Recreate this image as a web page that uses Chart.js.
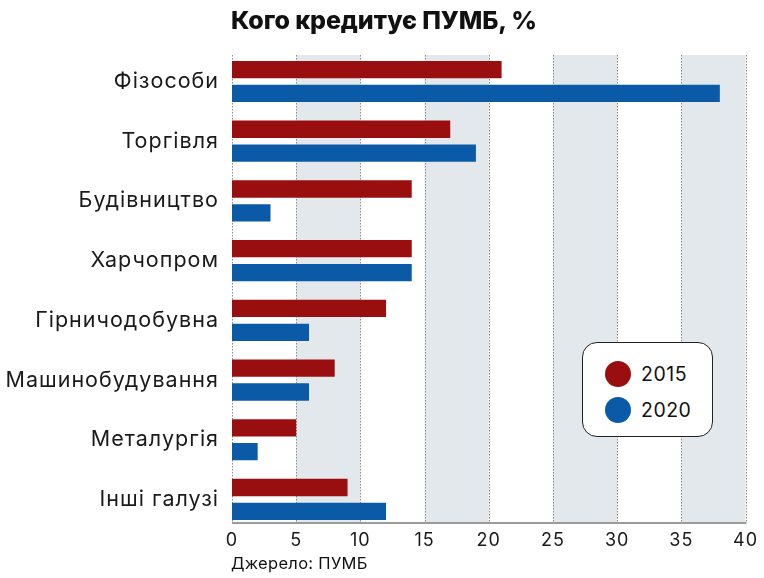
<!DOCTYPE html>
<html>
<head>
<meta charset="utf-8">
<script src="https://cdn.jsdelivr.net/npm/chart.js@4"></script>
<style>
  html, body { margin: 0; padding: 0; background: #fff; }
  #wrap { position: relative; width: 764px; height: 578px; overflow: hidden; }
  #c { position: absolute; left: 0; top: 0; }
  #title { position: absolute; left: 231px; top: 5px; font-family: Inter, sans-serif; font-weight: 800; font-size: 25px; color: #111; white-space: nowrap; letter-spacing: -0.1px; }
  #source { position: absolute; left: 231px; top: 553px; font-family: Inter, sans-serif; font-size: 16.5px; color: #111; white-space: nowrap; letter-spacing: 0.3px; }
  #legend { position: absolute; left: 582px; top: 342px; width: 129px; height: 93px; border: 1.6px solid #222; border-radius: 15px; background: #fff; box-sizing: content-box; }
  .li { position: absolute; left: 22px; height: 27px; display: flex; align-items: center; font-family: Inter, sans-serif; font-size: 19.5px; color: #111; letter-spacing: 0.5px; }
  .dot { width: 26px; height: 26px; border-radius: 50%; margin-right: 10px; }
</style>
</head>
<body>
<div id="wrap">
  <canvas id="c" width="764" height="578"></canvas>
  <div id="title">Кого кредитує ПУМБ, %</div>
  <div id="source">Джерело: ПУМБ</div>
  <div id="legend"></div>
</div>
<script>
const categories = ["Фізособи", "Торгівля", "Будівництво", "Харчопром", "Гірничодобувна", "Машинобудування", "Металургія", "Інші галузі"];
const seriesNames = ["2015", "2020"];
const values2015 = [21, 17, 14, 14, 12, 8, 5, 9];
const values2020 = [38, 19, 3, 14, 6, 6, 2, 12];
const xTicks = [0, 5, 10, 15, 20, 25, 30, 35, 40];
const colors = ["#990f0f", "#0b5aa7"];

const spacingPlugin = {
  id: 'spacing',
  beforeDraw(chart) { chart.ctx.letterSpacing = '1px'; }
};

const bandPlugin = {
  id: 'bands',
  beforeDatasetsDraw(chart) {
    const ctx = chart.ctx;
    const xs = chart.scales.x;
    const area = chart.chartArea;
    ctx.save();
    ctx.fillStyle = '#e2e8ec';
    for (let i = 0; i + 1 < xTicks.length; i++) {
      if (i % 2 === 1) {
        const a = xs.getPixelForValue(xTicks[i]);
        const b = xs.getPixelForValue(xTicks[i + 1]);
        ctx.fillRect(a, area.top, b - a, area.bottom - area.top);
      }
    }
    ctx.strokeStyle = '#8a8a8a';
    ctx.lineWidth = 1;
    ctx.setLineDash([1.5, 1.5]);
    xTicks.forEach(t => {
      const p = Math.round(xs.getPixelForValue(t)) + 0.5;
      ctx.beginPath();
      ctx.moveTo(p, area.top);
      ctx.lineTo(p, area.bottom);
      ctx.stroke();
    });
    ctx.setLineDash([]);
    ctx.strokeStyle = '#9a9a9a';
    ctx.lineWidth = 2;
    ctx.beginPath();
    ctx.moveTo(xs.getPixelForValue(xTicks[0]), area.bottom);
    ctx.lineTo(xs.getPixelForValue(xTicks[xTicks.length - 1]) + 1, area.bottom);
    ctx.stroke();
    ctx.restore();
  }
};

const datasets = [values2015, values2020].map((vals, k) => ({
  label: seriesNames[k],
  data: vals.map((v, i) => ({ x: v, y: i })),
  backgroundColor: colors[k],
  borderWidth: 0,
  categoryPercentage: 0.8,
  barPercentage: 0.725
}));

new Chart(document.getElementById('c'), {
  type: 'bar',
  data: { datasets },
  options: {
    indexAxis: 'y',
    responsive: false,
    animation: false,
    devicePixelRatio: 1,
    layout: { padding: { left: 0, right: 16, top: 55, bottom: 0 } },
    plugins: { legend: { display: false }, tooltip: { enabled: false } },
    scales: {
      x: {
        type: 'linear',
        min: 0, max: 40,
        grid: { display: false, drawTicks: false },
        border: { display: false },
        afterBuildTicks(scale) { scale.ticks = xTicks.map(v => ({ value: v })); },
        afterFit(scale) { scale.height = 55; },
        ticks: { color: '#1a1a1a', padding: 7, font: { family: 'Inter', size: 18 }, maxRotation: 0 }
      },
      y: {
        type: 'linear',
        reverse: true,
        offset: false,
        min: -0.444, max: 7.394,
        grid: { display: false, drawTicks: false, offset: false },
        border: { display: false },
        afterBuildTicks(scale) { scale.ticks = categories.map((_, i) => ({ value: i })); },
        afterFit(scale) { scale.width = 232; },
        ticks: {
          color: '#1a1a1a', padding: 13,
          font: { family: 'Inter', size: 21.5 },
          callback: (v) => categories[v]
        }
      }
    }
  },
  plugins: [spacingPlugin, bandPlugin]
});

const legend = document.getElementById('legend');
seriesNames.forEach((name, k) => {
  const row = document.createElement('div');
  row.className = 'li';
  row.style.top = (k === 0 ? 17 : 53) + 'px';
  const dot = document.createElement('div');
  dot.className = 'dot';
  dot.style.background = colors[k];
  const t = document.createElement('span');
  t.textContent = name;
  row.appendChild(dot); row.appendChild(t);
  legend.appendChild(row);
});
</script>
</body>
</html>
